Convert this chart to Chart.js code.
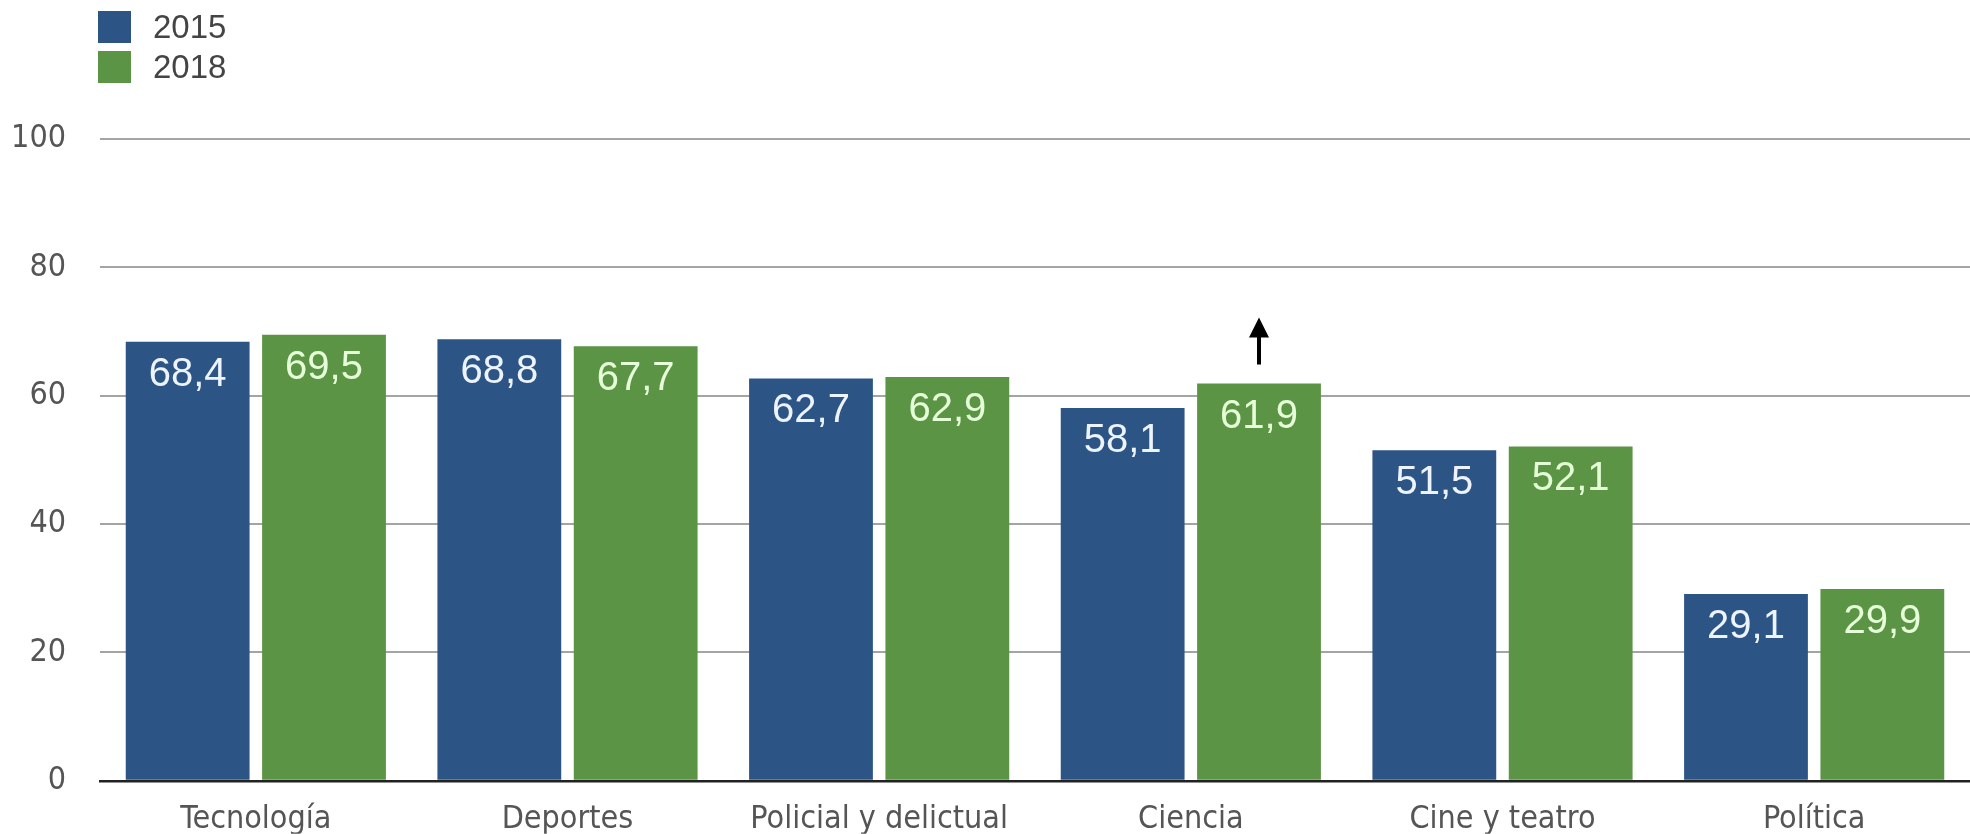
<!DOCTYPE html>
<html>
<head>
<meta charset="utf-8">
<script src="https://cdn.jsdelivr.net/npm/chart.js@4"></script>
<style>
  html, body { margin: 0; padding: 0; background: #fff; }
  #wrap { position: relative; width: 1970px; height: 834px; }
  #legend { position: absolute; left: 98px; top: 7px; font-family: "Liberation Sans", Arial, sans-serif; font-size: 33px; color: #444; }
  #legend div { display: flex; align-items: center; height: 40px; }
  #legend span.box { display: inline-block; width: 33px; height: 32px; margin-right: 22px; }
</style>
</head>
<body>
<div id="wrap">
  <div id="legend"></div>
  <canvas id="chart" width="1970" height="834"></canvas>
</div>
<script>
const categories = ["Tecnología", "Deportes", "Policial y delictual", "Ciencia", "Cine y teatro", "Política"];
const seriesNames = ["2015", "2018"];
const values2015 = [68.4, 68.8, 62.7, 58.1, 51.5, 29.1];
const values2018 = [69.5, 67.7, 62.9, 61.9, 52.1, 29.9];
const yTicks = [0, 20, 40, 60, 80, 100];
const colors = ["#2c5586", "#5b9445"];
const labelColors = ["#eef4ff", "#e6ffd8"];
// bar that gets the up arrow (Ciencia, 2018)
const arrowMark = { dataset: 1, index: 3 };

const legendEl = document.getElementById('legend');
seriesNames.forEach((name, i) => {
  const row = document.createElement('div');
  row.innerHTML = `<span class="box" style="background:${colors[i]}"></span>${name}`;
  legendEl.appendChild(row);
});

const valueLabels = {
  id: 'valueLabels',
  afterDatasetsDraw(chart) {
    const ctx = chart.ctx;
    ctx.save();
    ctx.font = '40px "Liberation Sans", Arial, sans-serif';
    ctx.textAlign = 'center';
    ctx.textBaseline = 'middle';
    chart.data.datasets.forEach((ds, di) => {
      const meta = chart.getDatasetMeta(di);
      meta.data.forEach((bar, i) => {
        ctx.fillStyle = labelColors[di];
        ctx.fillText(ds.data[i].toFixed(1).replace('.', ','), bar.x, bar.y + 33);
      });
    });
    // arrow above the marked bar
    const bar = chart.getDatasetMeta(arrowMark.dataset).data[arrowMark.index];
    ctx.fillStyle = '#000';
    ctx.strokeStyle = '#000';
    ctx.lineWidth = 4;
    ctx.beginPath();
    ctx.moveTo(bar.x, bar.y - 19);
    ctx.lineTo(bar.x, bar.y - 50);
    ctx.stroke();
    ctx.beginPath();
    ctx.moveTo(bar.x, bar.y - 66);
    ctx.lineTo(bar.x - 10, bar.y - 46);
    ctx.lineTo(bar.x + 10, bar.y - 46);
    ctx.closePath();
    ctx.fill();
    ctx.restore();
  }
};

const tickFont = { family: '"DejaVu Sans Condensed", "Liberation Sans Narrow", "Roboto", sans-serif', size: 32 };

new Chart(document.getElementById('chart').getContext('2d'), {
  type: 'bar',
  data: {
    labels: categories,
    datasets: [
      { label: seriesNames[0], data: values2015, backgroundColor: colors[0] },
      { label: seriesNames[1], data: values2018, backgroundColor: colors[1] },
    ],
  },
  options: {
    responsive: false,
    animation: false,
    layout: { padding: { top: 139, right: 0, left: 0, bottom: 0 } },
    plugins: { legend: { display: false }, tooltip: { enabled: false } },
    datasets: { bar: { categoryPercentage: 0.875, barPercentage: 0.908 } },
    scales: {
      x: {
        grid: { display: false, drawTicks: false },
        border: { display: true, color: '#222', width: 2.5 },
        ticks: { color: '#555', font: tickFont, padding: 20 },
        afterFit(axis) { axis.height = 53; },
      },
      y: {
        min: 0,
        max: 100,
        afterBuildTicks(axis) { axis.ticks = yTicks.map(v => ({ value: v })); },
        grid: { color: '#a4a4a4', lineWidth: 2, drawTicks: false },
        border: { display: false },
        ticks: { color: '#555', font: tickFont, padding: 34 },
        afterFit(axis) { axis.width = 100; },
      },
    },
  },
  plugins: [valueLabels],
});
</script>
</body>
</html>
